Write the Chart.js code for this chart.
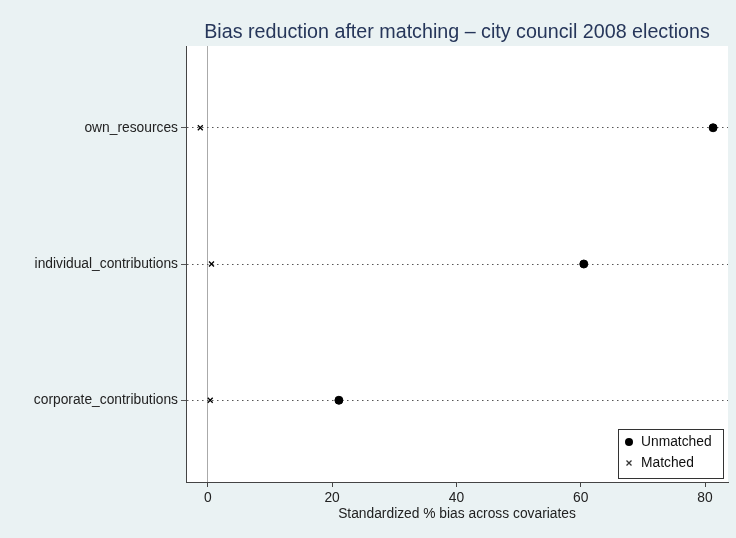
<!DOCTYPE html>
<html>
<head>
<meta charset="utf-8">
<script src="https://cdn.jsdelivr.net/npm/chart.js@4"></script>
<style>
  html, body { margin: 0; padding: 0; background: #eaf2f3; }
  #wrap { width: 736px; height: 538px; }
</style>
</head>
<body>
<div id="wrap"><canvas id="biasChart" width="736" height="538"></canvas></div>
<script>
// covariates, bottom to top
const covariates = ['corporate_contributions', 'individual_contributions', 'own_resources'];
const unmatched = [21.1, 60.5, 81.3];
const matched = [0.4, 0.6, -1.2];
const xTicks = [0, 20, 40, 60, 80];
const seriesNames = ['Unmatched', 'Matched'];

Chart.defaults.font.family = '"Liberation Sans", Arial, sans-serif';
Chart.defaults.color = '#222';

// white plot region, title and boxed legend (Stata style)
const stataLook = {
    id: 'stataLook',
    beforeDraw(chart) {
        const { ctx, chartArea: ca } = chart;
        ctx.save();
        ctx.fillStyle = '#ffffff';
        ctx.fillRect(ca.left, ca.top, ca.right - ca.left, ca.bottom - ca.top);
        ctx.restore();
    },
    afterDraw(chart) {
        const { ctx, chartArea: ca } = chart;
        ctx.save();
        ctx.font = '19.7px "Liberation Sans", Arial, sans-serif';
        ctx.fillStyle = '#26365a';
        ctx.textAlign = 'center';
        ctx.textBaseline = 'middle';
        ctx.fillText('Bias reduction after matching \u2013 city council 2008 elections', (ca.left + ca.right) / 2, 33);

        // legend box
        const bx = ca.right - 110, by = ca.bottom - 53;
        ctx.fillStyle = '#ffffff';
        ctx.fillRect(bx, by, 105, 49);
        ctx.strokeStyle = '#333';
        ctx.lineWidth = 1;
        ctx.strokeRect(bx + 0.5, by + 0.5, 105, 49);

        ctx.fillStyle = '#000';
        ctx.beginPath();
        ctx.arc(bx + 11, by + 13, 4, 0, Math.PI * 2);
        ctx.fill();
        ctx.lineWidth = 1.3;
        ctx.beginPath();
        ctx.moveTo(bx + 8.5, by + 31.5); ctx.lineTo(bx + 13.5, by + 36.5);
        ctx.moveTo(bx + 13.5, by + 31.5); ctx.lineTo(bx + 8.5, by + 36.5);
        ctx.stroke();

        ctx.font = '13.8px "Liberation Sans", Arial, sans-serif';
        ctx.fillStyle = '#111';
        ctx.textAlign = 'left';
        ctx.fillText(seriesNames[0], bx + 23, by + 13);
        ctx.fillText(seriesNames[1], bx + 23, by + 34);
        ctx.restore();
    }
};

const ctx = document.getElementById('biasChart').getContext('2d');
const biasChart = new Chart(ctx, {
    type: 'scatter',
    data: {
        datasets: [{
            label: seriesNames[0],
            data: covariates.map((c, i) => ({ x: unmatched[i], y: i + 1 })),
            pointStyle: 'circle',
            pointRadius: 4,
            backgroundColor: '#000',
            borderColor: '#000'
        }, {
            label: seriesNames[1],
            data: covariates.map((c, i) => ({ x: matched[i], y: i + 1 })),
            pointStyle: 'crossRot',
            pointRadius: 3.5,
            borderWidth: 1.3,
            backgroundColor: '#000',
            borderColor: '#000'
        }]
    },
    options: {
        responsive: false,
        animation: false,
        layout: { padding: { top: 46, right: 8, left: 0, bottom: 0 } },
        plugins: {
            legend: { display: false },
            tooltip: { enabled: false }
        },
        scales: {
            x: {
                type: 'linear',
                min: -3.5,
                max: 83.7,
                afterBuildTicks: (scale) => { scale.ticks = xTicks.map(v => ({ value: v })); },
                afterFit: (scale) => { scale.height = 56; },
                ticks: { font: { size: 13.8 }, color: '#222', padding: 3, maxRotation: 0 },
                grid: {
                    color: (c) => c.tick && c.tick.value === 0 ? '#aaaaaa' : 'transparent',
                    tickColor: '#444',
                    tickLength: 5,
                    lineWidth: 1
                },
                border: { display: true, color: '#444', width: 1 },
                title: {
                    display: true,
                    text: 'Standardized % bias across covariates',
                    font: { size: 13.8 },
                    color: '#222',
                    padding: { top: 0, bottom: 16 }
                }
            },
            y: {
                type: 'linear',
                min: 0.4,
                max: 3.6,
                afterBuildTicks: (scale) => { scale.ticks = covariates.map((c, i) => ({ value: i + 1 })); },
                afterFit: (scale) => { scale.width = 186; },
                ticks: {
                    font: { size: 13.8 },
                    color: '#222',
                    padding: 3,
                    callback: (v) => covariates[v - 1]
                },
                grid: {
                    color: '#555',
                    tickColor: '#555',
                    tickLength: 5,
                    lineWidth: 1
                },
                border: { display: true, color: '#444', width: 1, dash: [1.5, 3.5] }
            }
        }
    },
    plugins: [stataLook]
});
</script>
</body>
</html>
